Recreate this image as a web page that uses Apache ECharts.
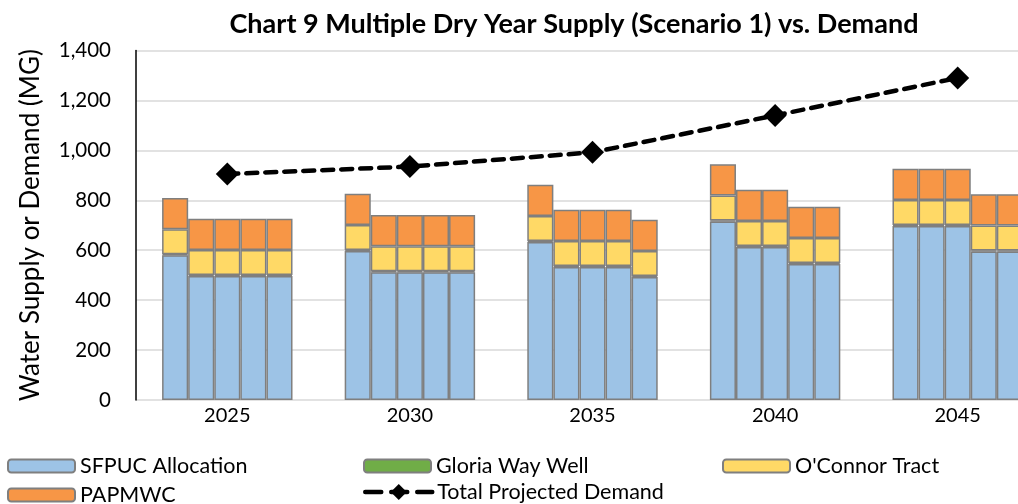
<!DOCTYPE html>
<html>
<head>
<meta charset="utf-8">
<script src="https://cdn.jsdelivr.net/npm/echarts@6/dist/echarts.min.js"></script>
<style>html,body{margin:0;padding:0;background:#fff;}#c{width:1018px;height:504px;}</style>
</head>
<body>
<div id="c"></div>
<script>
// ---- data ----
const years = ['2025', '2030', '2035', '2040', '2045'];
// five consecutive dry years per group
const sfpuc    = [[580, 497, 497, 497, 497], [597, 512, 512, 512, 512], [633, 533, 533, 533, 493], [715, 613, 613, 545, 545], [697, 697, 697, 595, 595]];
const gloria   = [[4, 4, 4, 4, 4], [4, 4, 4, 4, 4], [4, 4, 4, 4, 4], [4, 4, 4, 4, 4], [4, 4, 4, 4, 4]];
const oconnor  = [[100, 100, 100, 100, 100], [100, 100, 100, 100, 100], [100, 100, 100, 100, 100], [100, 100, 100, 100, 100], [100, 100, 100, 100, 100]];
const papmwc   = [[125, 125, 125, 125, 125], [125, 125, 125, 125, 125], [125, 125, 125, 125, 125], [125, 125, 125, 125, 125], [125, 125, 125, 125, 125]];
const demand   = [905, 935, 992, 1140, 1290];
const yTicks = [0, 200, 400, 600, 800, 1000, 1200, 1400];

// ---- build slot layout: 1 blank, then groups of 5 bars separated by 2 blanks ----
const cats = [];
const slotMap = []; // [groupIndex, barIndex] or null
cats.push(''); slotMap.push(null);
years.forEach((y, g) => {
  for (let b = 0; b < 5; b++) { cats.push(b === 2 ? y : ''); slotMap.push([g, b]); }
  if (g < years.length - 1) { cats.push(''); slotMap.push(null); cats.push(''); slotMap.push(null); }
});
cats.push(''); slotMap.push(null);

function expand(arr) { return slotMap.map(s => s ? arr[s[0]][s[1]] : null); }
const demandSlots = slotMap.map(s => (s && s[1] === 2) ? demand[s[0]] : null);

const FONT = 'Lato';
const border = { borderColor: '#7f7f7f', borderWidth: 1.5 };

const chart = echarts.init(document.getElementById('c'), null, { renderer: 'canvas' });
const legendBase = { orient: 'horizontal', itemWidth: 67, itemHeight: 13, itemGap: 8,
  textStyle: { fontFamily: FONT, fontSize: 21.5, color: '#000' }, padding: 0, selectedMode: false };
chart.setOption({
  animation: false,
  backgroundColor: '#fff',
  title: { text: 'Chart 9 Multiple Dry Year Supply (Scenario 1) vs. Demand', left: 569, top: 6, textAlign: 'center',
    textStyle: { fontFamily: FONT, fontSize: 27, fontWeight: 'bold', color: '#000' } },
  legend: [
    Object.assign({}, legendBase, { data: ['SFPUC Allocation'], left: 7, top: 455 }),
    Object.assign({}, legendBase, { data: ['Gloria Way Well'], left: 363, top: 455 }),
    Object.assign({}, legendBase, { data: ["O'Connor Tract"], left: 722, top: 455 }),
    Object.assign({}, legendBase, { data: ['PAPMWC'], left: 7, top: 484 }),
    Object.assign({}, legendBase, { data: ['Total Projected Demand'], left: 363, top: 481, itemHeight: 20,
      lineStyle: { type: [16, 10], width: 4.5, cap: 'round' } })
  ],
  grid: { left: 136, top: 50.5, bottom: 104, right: -31, outerBoundsMode: 'none', containLabel: false },
  xAxis: {
    type: 'category', data: cats,
    axisLine: { show: false }, axisTick: { show: false },
    axisLabel: { interval: 0, fontFamily: FONT, fontSize: 20, color: '#000', margin: 6 }
  },
  yAxis: {
    type: 'value', min: yTicks[0], max: yTicks[yTicks.length - 1], interval: 200,
    name: 'Water Supply or Demand (MG)', nameLocation: 'middle', nameGap: 92, nameRotate: 90,
    nameTextStyle: { fontFamily: FONT, fontSize: 26, color: '#000' },
    axisLine: { show: true, lineStyle: { color: '#000', width: 1.5 } },
    axisTick: { show: false },
    axisLabel: { fontFamily: FONT, fontSize: 20.5, color: '#000', margin: 25,
      formatter: v => v.toLocaleString('en-US') },
    splitLine: { show: true, lineStyle: { color: '#d9d9d9', width: 1.5 } }
  },
  series: [
    { name: 'SFPUC Allocation', type: 'bar', stack: 's', barCategoryGap: '0%', data: expand(sfpuc),
      itemStyle: Object.assign({ color: '#9dc3e6' }, border) },
    { name: 'Gloria Way Well', type: 'bar', stack: 's', data: expand(gloria),
      itemStyle: Object.assign({ color: '#70ad47' }, border) },
    { name: "O'Connor Tract", type: 'bar', stack: 's', data: expand(oconnor),
      itemStyle: Object.assign({ color: '#ffd966' }, border) },
    { name: 'PAPMWC', type: 'bar', stack: 's', data: expand(papmwc),
      itemStyle: Object.assign({ color: '#f79646' }, border) },
    { name: 'Total Projected Demand', type: 'line', data: demandSlots, connectNulls: true, z: 10,
      symbol: 'diamond', symbolSize: 23,
      lineStyle: { color: '#000', width: 4.5, type: [11, 8], cap: 'round' },
      itemStyle: { color: '#000' } }
  ]
});
</script>
</body>
</html>
